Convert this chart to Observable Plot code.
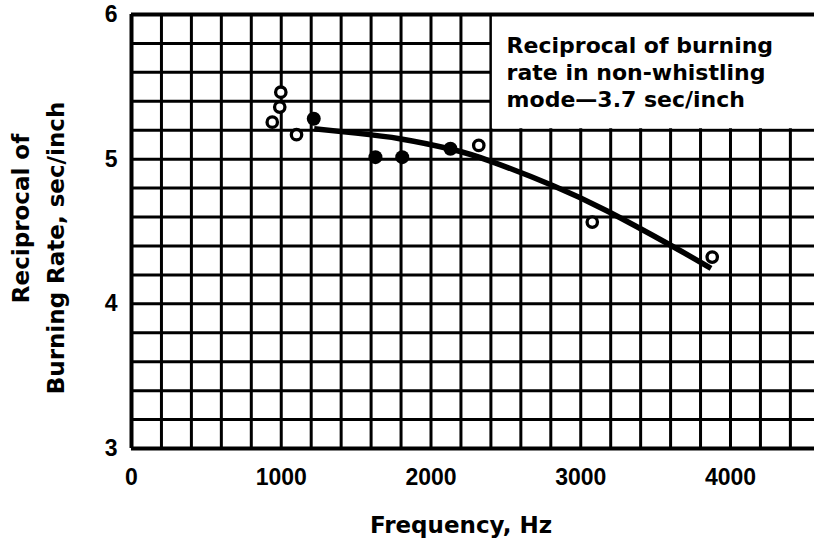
<!DOCTYPE html>
<html>
<head>
<meta charset="utf-8">
<script src="https://cdn.jsdelivr.net/npm/d3@7"></script>
<script src="https://cdn.jsdelivr.net/npm/@observablehq/plot@0.6"></script>
<style>
  html, body { margin: 0; padding: 0; background: white; }
  #chart svg { display: block; }
</style>
</head>
<body>
<div id="chart"></div>
<script>
// Open circles (whistling data points)
const openFreq = [940, 990, 997, 1102, 2319, 3077, 3878];
const openRate = [5.256, 5.36, 5.463, 5.169, 5.095, 4.565, 4.323];
// Filled circles
const filledFreq = [1217, 1629, 1808, 2130];
const filledRate = [5.279, 5.014, 5.014, 5.072];
// Fitted curve
const curveFreq = [1220, 1500, 1800, 2130, 2400, 2820, 3180, 3600, 3870];
const curveRate = [5.21, 5.18, 5.14, 5.07, 4.985, 4.815, 4.64, 4.405, 4.245];
// Axis ticks and grid
const xTicks = [0, 1000, 2000, 3000, 4000];
const yTicks = [3, 4, 5, 6];
const gridFreq = [0, 200, 400, 600, 800, 1000, 1200, 1400, 1600, 1800, 2000, 2200, 2400, 2600, 2800, 3000, 3200, 3400, 3600, 3800, 4000, 4200, 4400];
const gridRate = [3, 3.2, 3.4, 3.6, 3.8, 4, 4.2, 4.4, 4.6, 4.8, 5, 5.2, 5.4, 5.6, 5.8, 6];
// Texts
const xLabel = "Frequency, Hz";
const yLabelLines = ["Reciprocal of", "Burning Rate, sec/inch"];
const noteText = "Reciprocal of burning\nrate in non-whistling\nmode\u20143.7 sec/inch";
// Annotation box extent (data units)
const noteBox = [{x1: 2400, x2: 4561, y1: 5.2, y2: 6}];
const notePos = [{x: 2505, y: 5.865}];

const openPts = openFreq.map((f, i) => ({f, r: openRate[i]}));
const filledPts = filledFreq.map((f, i) => ({f, r: filledRate[i]}));
const curvePts = curveFreq.map((f, i) => ({f, r: curveRate[i]}));

const chart = Plot.plot({
  width: 814,
  height: 542,
  marginLeft: 131,
  marginRight: 0,
  marginTop: 14,
  marginBottom: 94,
  style: {fontFamily: "'DejaVu Sans'", fontWeight: "bold", background: "white", color: "black"},
  x: {domain: [0, 4561]},
  y: {domain: [3, 6]},
  marks: [
    Plot.ruleX(gridFreq, {stroke: "black", strokeWidth: 3}),
    Plot.ruleY(gridRate, {stroke: "black", strokeWidth: 3}),
    Plot.rect(noteBox, {x1: "x1", x2: "x2", y1: "y1", y2: "y2", fill: "white", insetLeft: 1.5, insetBottom: 1.5, insetTop: 2}),
    Plot.text(notePos, {x: "x", y: "y", text: () => noteText, textAnchor: "start", lineAnchor: "top", lineHeight: 1.22, fontSize: 22, fontWeight: "bold", fill: "black"}),
    Plot.ruleY([6], {stroke: "black", strokeWidth: 4}),
    Plot.ruleY([3], {stroke: "black", strokeWidth: 4}),
    Plot.ruleX([0], {stroke: "black", strokeWidth: 4}),
    Plot.line(curvePts, {x: "f", y: "r", curve: "natural", stroke: "black", strokeWidth: 5.5, strokeLinecap: "butt"}),
    Plot.dot(filledPts, {x: "f", y: "r", r: 7, fill: "black", stroke: "none"}),
    Plot.dot(openPts, {x: "f", y: "r", r: 5.2, fill: "white", stroke: "black", strokeWidth: 3.3}),
    Plot.axisX(xTicks, {tickSize: 0, tickPadding: 20, tickFormat: d => String(d), fontSize: 23, fontFamily: "'Liberation Sans'", fontWeight: "bold", label: null}),
    Plot.axisY(yTicks, {tickSize: 0, tickPadding: 14, tickFormat: d => String(d), fontSize: 23, fontFamily: "'Liberation Sans'", fontWeight: "bold", label: null}),
    Plot.text([xLabel], {frameAnchor: "bottom", text: d => d, dx: -12, dy: 68, lineAnchor: "top", fontSize: 23, fontWeight: "bold", fill: "black"}),
    Plot.text([yLabelLines[0]], {frameAnchor: "left", text: d => d, rotate: -90, textAnchor: "middle", dx: -119, dy: -13, lineAnchor: "top", fontSize: 23, fontWeight: "bold", fill: "black"}),
    Plot.text([yLabelLines[1]], {frameAnchor: "left", text: d => d, rotate: -90, textAnchor: "middle", dx: -84, dy: 16.5, lineAnchor: "top", fontSize: 23, fontWeight: "bold", fill: "black"})
  ]
});
document.getElementById("chart").appendChild(chart);
</script>
</body>
</html>
